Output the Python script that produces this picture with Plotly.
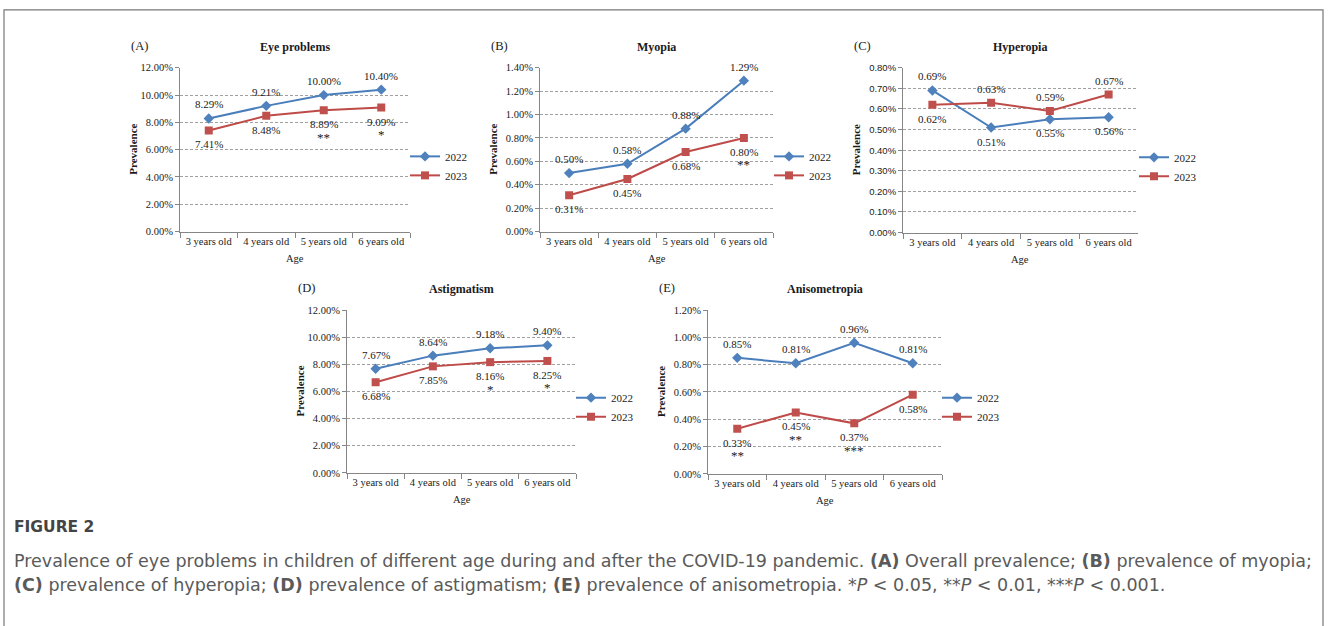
import plotly.graph_objects as go

W, H = 1328, 626

ages = ["3 years old", "4 years old", "5 years old", "6 years old"]
years = ["2022", "2023"]

eye_2022 = [8.29, 9.21, 10.00, 10.40]
eye_2023 = [7.41, 8.48, 8.89, 9.09]
eye_sig = ["", "", "**", "*"]

myo_2022 = [0.50, 0.58, 0.88, 1.29]
myo_2023 = [0.31, 0.45, 0.68, 0.80]
myo_sig = ["", "", "", "**"]

hyp_2022 = [0.69, 0.51, 0.55, 0.56]
hyp_2023 = [0.62, 0.63, 0.59, 0.67]
hyp_sig = ["", "", "", ""]

ast_2022 = [7.67, 8.64, 9.18, 9.40]
ast_2023 = [6.68, 7.85, 8.16, 8.25]
ast_sig = ["", "", "*", "*"]

ani_2022 = [0.85, 0.81, 0.96, 0.81]
ani_2023 = [0.33, 0.45, 0.37, 0.58]
ani_sig = ["**", "**", "***", ""]

# label side: 1 = above marker, -1 = below marker
above4 = [1, 1, 1, 1]
below4 = [-1, -1, -1, -1]
hyp_side_2022 = [1, -1, -1, -1]
hyp_side_2023 = [-1, 1, 1, 1]

SERIF = "Liberation Serif"
SANS = "Liberation Sans"
CAPF = "DejaVu Sans"
BLUE_L, BLUE_M = "#4A7EBB", "#4F81BD"
RED_L, RED_M = "#BE4B48", "#C0504D"
AXC = "#868686"
TXT = "#1a1a1a"

panels = [
    dict(letter="(A)", title="Eye problems", a=eye_2022, b=eye_2023, sig=eye_sig,
         sa=above4, sb=below4, ymax=12, dt=2, box=(180, 410, 63, 230),
         tickfont=SERIF, leg=(405, 163)),
    dict(letter="(B)", title="Myopia", a=myo_2022, b=myo_2023, sig=myo_sig,
         sa=above4, sb=below4, ymax=1.4, dt=0.2, box=(540, 773, 63, 230),
         tickfont=SERIF, leg=(769, 163)),
    dict(letter="(C)", title="Hyperopia", a=hyp_2022, b=hyp_2023, sig=hyp_sig,
         sa=hyp_side_2022, sb=hyp_side_2023, ymax=0.8, dt=0.1, box=(903, 1138, 63, 231),
         tickfont=SANS, leg=(1134, 164)),
    dict(letter="(D)", title="Astigmatism", a=ast_2022, b=ast_2023, sig=ast_sig,
         sa=above4, sb=below4, ymax=12, dt=2, box=(347, 576, 310, 476),
         tickfont=SERIF, leg=(571, 409)),
    dict(letter="(E)", title="Anisometropia", a=ani_2022, b=ani_2023, sig=ani_sig,
         sa=above4, sb=below4, ymax=1.2, dt=0.2, box=(708, 942, 310, 477),
         tickfont=SERIF, leg=(937, 409)),
]

fig = go.Figure()
annotations = []
layout = {}


def fx(px):
    return px / W


def fy(py):
    return 1 - py / H


def txt(x, y, text, size, family=SERIF, color=TXT, **kw):
    d = dict(xref="paper", yref="paper", x=fx(x), y=fy(y), text=text, showarrow=False,
             xanchor="center", yanchor="middle",
             font=dict(family=family, size=size, color=color))
    d.update(kw)
    annotations.append(d)


for i, p in enumerate(panels, start=1):
    xa, ya = f"x{i}", f"y{i}"
    legname = "legend" if i == 1 else f"legend{i}"
    x0, x1, y0, y1 = p["box"]
    for name, vals, lc, mc, sym, ms in [
        (years[0], p["a"], BLUE_L, BLUE_M, "diamond", 8),
        (years[1], p["b"], RED_L, RED_M, "square", 8),
    ]:
        fig.add_trace(go.Scatter(
            x=ages, y=vals, name=name, mode="lines+markers",
            line=dict(color=lc, width=2),
            marker=dict(symbol=sym, size=ms, color=mc, line=dict(width=0)),
            xaxis=xa, yaxis=ya, legend=legname, showlegend=True,
            hoverinfo="skip"))

    axkey = "" if i == 1 else str(i)
    layout[f"xaxis{axkey}"] = dict(
        domain=[fx(x0), fx(x1)], anchor=ya, type="category",
        range=[-0.5, 3.5], tickson="boundaries", ticks="outside", ticklen=5,
        tickcolor=AXC, showline=True, linecolor=AXC, linewidth=1,
        showgrid=False, zeroline=False,
        tickfont=dict(family=SERIF, size=10.5, color=TXT), fixedrange=True)
    layout[f"yaxis{axkey}"] = dict(
        domain=[fy(y1), fy(y0)], anchor=xa, range=[0, p["ymax"]],
        tick0=0, dtick=p["dt"], tickformat=".2f", ticksuffix="%",
        ticks="outside", ticklen=4, tickcolor=AXC,
        showline=True, linecolor=AXC, linewidth=1,
        showgrid=True, gridcolor="#a0a0a0", griddash="3px,2px", gridwidth=1,
        zeroline=False,
        tickfont=dict(family=p["tickfont"], size=10.5 if p["tickfont"] == SERIF else 9.5,
                      color=TXT), fixedrange=True)
    lx, ly = p["leg"]
    layout[legname] = dict(
        x=fx(lx), y=fy(ly), xanchor="left", yanchor="middle",
        bgcolor="rgba(0,0,0,0)", font=dict(family=SERIF, size=11, color=TXT),
        itemwidth=30, tracegroupgap=0)

    # data labels
    for vals, sides in [(p["a"], p["sa"]), (p["b"], p["sb"])]:
        for age, v, s in zip(ages, vals, sides):
            annotations.append(dict(
                xref=xa, yref=ya, x=age, y=v, text=f"{v:.2f}%", showarrow=False,
                xanchor="center", yanchor="middle",
                yshift=14 * s, font=dict(family=SERIF, size=11, color=TXT)))
    for age, v, s, st in zip(ages, p["b"], p["sb"], p["sig"]):
        if st:
            annotations.append(dict(
                xref=xa, yref=ya, x=age, y=v, text=st, showarrow=False,
                xanchor="center", yanchor="middle",
                yshift=14 * s - 13, font=dict(family=SERIF, size=13, color=TXT)))

    cx = (x0 + x1) / 2
    txt(cx, y0 - 21, f"<b>{p['title']}</b>", 12)
    txt(x0 - 41, y0 - 22, p["letter"], 12.5)
    txt(x0 - 47, (y0 + y1) / 2, "<b>Prevalence</b>", 11, textangle=-90)
    txt(cx, y1 + 27, "Age", 10.5)

# caption
txt(12, 531, "<b>FIGURE 2</b>", 15.5, family=CAPF, color="#444444", xanchor="left")
cap1 = ("Prevalence of eye problems in children of different age during and after the "
        "COVID-19 pandemic. <b>(A)</b> Overall prevalence; <b>(B)</b> prevalence of myopia;")
cap2 = ("<b>(C)</b> prevalence of hyperopia; <b>(D)</b> prevalence of astigmatism; "
        "<b>(E)</b> prevalence of anisometropia. *<i>P</i> &lt; 0.05, **<i>P</i> &lt; 0.01, "
        "***<i>P</i> &lt; 0.001.")
txt(12, 566, cap1, 17.5, family=CAPF, color="#5a5a5a", xanchor="left")
txt(12, 590, cap2, 17.5, family=CAPF, color="#5a5a5a", xanchor="left")

shapes = [dict(type="rect", xref="paper", yref="paper", x0=fx(4), x1=fx(1323),
               y0=-0.5, y1=fy(4), line=dict(color="#777777", width=1.2),
               fillcolor="rgba(0,0,0,0)", layer="below")]

fig.update_layout(
    width=W, height=H, margin=dict(l=0, r=0, t=0, b=0),
    paper_bgcolor="white", plot_bgcolor="white",
    annotations=annotations, shapes=shapes, **layout)

fig.write_html("out.html", config={"displayModeBar": False, "staticPlot": True},
               post_script="document.body.style.margin='0';")
